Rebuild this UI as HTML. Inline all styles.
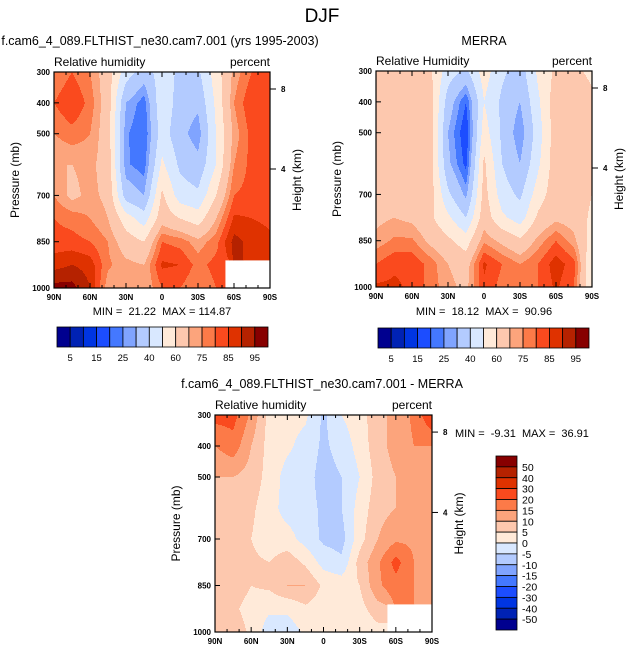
<!DOCTYPE html>
<html><head><meta charset="utf-8"><style>
body{margin:0;background:#fff;}
svg{display:block;font-family:"Liberation Sans",Arial,sans-serif;}
</style></head><body>
<svg id="chart" width="631" height="656" viewBox="0 0 631 656" xmlns="http://www.w3.org/2000/svg">
<text x="322" y="22" font-size="19" text-anchor="middle">DJF</text>
<g id="g1"></g>
<g id="g2"></g>
<g id="g3"></g>
</svg>
<script>
const lats = [90,75,60,45,30,15,0,-15,-30,-45,-60,-75,-90];
const levels = [300,400,500,600,700,775,850,925,1000];
const N = null;
// rows = levels, cols = lats
const modelRH = [
[75,80,75,65,45,35,45,38,38,55,72,80,82],
[80,85,78,65,30,22,48,35,32,52,75,85,85],
[75,78,75,65,26,20,45,33,26,50,72,82,82],
[70,70,72,66,26,22,52,38,33,50,75,82,82],
[75,68,72,68,35,30,62,45,42,60,80,82,82],
[80,78,75,70,55,45,66,60,55,70,86,85,84],
[82,82,80,75,65,60,80,78,72,78,92,88,86],
[88,90,88,76,72,70,86,85,78,82,N,N,N],
[97,97,90,72,70,70,80,80,75,80,N,N,N]];
const merraRH = [
[62,62,62,62,45,38,55,42,35,52,62,62,58],
[68,68,68,65,35,20,50,38,30,48,66,66,62],
[68,68,68,65,30,15,55,38,25,45,66,66,62],
[68,68,68,65,32,18,62,40,30,48,66,66,62],
[68,68,68,65,42,28,64,45,38,55,66,66,60],
[68,70,68,62,52,40,66,52,45,62,68,66,58],
[72,76,76,68,62,55,74,68,62,72,80,72,55],
[80,84,84,78,70,66,86,80,75,80,88,82,50],
[86,86,84,78,72,68,84,78,75,80,86,80,50]];
const diffRH = [
[22,22,14,3,2,1,-6,0,3,8,12,16,25],
[15,18,10,3,1,-2,-6,-3,2,8,12,15,15],
[10,10,8,3,-2,-3,-7,-5,0,7,10,12,12],
[8,8,6,2,-2,-3,-6,-5,2,8,10,12,12],
[8,6,5,2,2,-2,-6,-7,3,10,14,14,13],
[8,7,6,5,8,4,-2,-4,7,14,22,15,14],
[8,8,5,6,10,10,4,3,5,14,18,15,14],
[8,6,3,1,1,4,2,2,3,8,N,N,N],
[10,8,4,-3,-3,1,2,2,1,3,N,N,N]];
const rhLevels = [5,10,15,20,25,30,40,50,60,70,75,80,85,90,95];
const rhLabels = ["5","15","25","40","60","75","85","95"];
const diffLevels = [-50,-40,-30,-20,-15,-10,-5,0,5,10,15,20,30,40,50];
const diffLabels = ["50","40","30","20","15","10","5","0","-5","-10","-15","-20","-30","-40","-50"];
const pTicks = [300,400,500,700,850,1000];
const latTicks = [90,60,30,0,-30,-60,-90];
const latTickLabels = ["90N","60N","30N","0","30S","60S","90S"];
const colors = ["#00008f","#0022b4","#0035e2","#1c4dff","#4478ff","#80a4ff","#b3cbff","#d9e8ff","#ffead9","#fdc8ae","#fca47c","#fc7a48","#fa4a1e","#df3200","#b52200","#870000"];

const NS="http://www.w3.org/2000/svg";
function el(tag,attrs,parent,txt){const e=document.createElementNS(NS,tag);for(const k in attrs)e.setAttribute(k,attrs[k]);if(txt!==undefined)e.textContent=txt;parent.appendChild(e);return e;}
function colorIdx(v,lv){let i=0;while(i<lv.length&&v>=lv[i])i++;return i;}
function sample(grid,la,p){
  let fi=(90-la)/15; let ci=Math.max(0,Math.min(Math.floor(fi),lats.length-2)); let tx=fi-ci;
  let ri=0; while(ri<levels.length-2&&p>levels[ri+1])ri++;
  let ty=(p-levels[ri])/(levels[ri+1]-levels[ri]);
  const nr=ty<0.8?ri:ri+1, nc=tx<0.5?ci:ci+1;
  if(grid[nr][nc]===null)return null;
  const pts=[[ri,ci,(1-tx)*(1-ty)],[ri,ci+1,tx*(1-ty)],[ri+1,ci,(1-tx)*ty],[ri+1,ci+1,tx*ty]];
  let s=0,w=0;for(const [r,c,ww] of pts){const v=grid[r][c];if(v!==null){s+=v*ww;w+=ww;}}
  return w>0?s/w:null;
}
function panel(g,P,grid,lv,opts){
  const xS=la=>P.x+(90-la)/180*P.w;
  const yS=p=>P.y+(p-300)/700*P.h;
  const step=1;
  const cells=el('g',{},g);
  
  
  for(let py=0;py<P.h;py+=step){
    const p=300+(py+step/2)/P.h*700;
    const row=[];
    for(let px=0;px<P.w;px+=step){const la=90-(px+step/2)/P.w*180;const v=sample(grid,la,p);row.push(v===null?null:colors[colorIdx(v,lv)]);}
    let start=0;
    for(let i=1;i<=row.length;i++){
      if(i===row.length||row[i]!==row[start]){
        if(row[start]){const r=el('rect',{x:P.x+start*step,y:P.y+py,width:Math.min((i-start)*step,P.w-start*step)+0.4,height:step+0.4,fill:row[start]},cells);
          
          }
        start=i;
      }
    }
  }
  el('rect',{x:P.x,y:P.y,width:P.w,height:P.h,fill:'none',stroke:'#000','stroke-width':1.2},g);
  pTicks.forEach(p=>{const y=yS(p);el('line',{x1:P.x,x2:P.x+5,y1:y,y2:y,stroke:'#000'},g);
    const t=el('text',{x:P.x-4,y:y+3,'font-size':8,'font-weight':'bold','text-anchor':'end'},g,String(p));});
  latTicks.forEach((la,i)=>{const x=xS(la);el('line',{x1:x,x2:x,y1:P.y+P.h,y2:P.y+P.h-5,stroke:'#000'},g);el('line',{x1:x,x2:x,y1:P.y,y2:P.y+5,stroke:'#000'},g);
    const t=el('text',{x:x,y:P.y+P.h+12,'font-size':8,'font-weight':'bold','text-anchor':'middle'},g,latTickLabels[i]);});
  for(let la=80;la>-90;la-=10){if(la%30===0)continue;const x=xS(la);el('line',{x1:x,x2:x,y1:P.y+P.h,y2:P.y+P.h-3,stroke:'#000'},g);el('line',{x1:x,x2:x,y1:P.y,y2:P.y+3,stroke:'#000'},g);}
  [[8,17/216],[4,97/216]].forEach(([h,f])=>{const y=P.y+f*P.h;el('line',{x1:P.x+P.w,x2:P.x+P.w+6,y1:y,y2:y,stroke:'#000'},g);
    const t=el('text',{x:P.x+P.w+11,y:y+3,'font-size':8,'font-weight':'bold'},g,String(h));});
  const yl=el('text',{x:0,y:0,'font-size':12,'text-anchor':'middle',transform:`translate(${P.x-35},${P.y+P.h/2}) rotate(-90)`},g,'Pressure (mb)');
  
  const yr=el('text',{x:0,y:0,'font-size':12,'text-anchor':'middle',transform:`translate(${P.x+P.w+31},${P.y+P.h/2}) rotate(-90)`},g,'Height (km)');
  
  const v1=el('text',{x:P.x,y:P.y-6,'font-size':12},g,opts.var);
  const u1=el('text',{x:P.x+P.w,y:P.y-6,'font-size':12,'text-anchor':'end'},g,'percent');
  const ti=el('text',{x:opts.tx,y:opts.ty,'font-size':12.5,'text-anchor':'middle'},g,opts.title);
  const mm=el('text',{x:opts.mx,y:opts.my,'font-size':11,'text-anchor':opts.ma,style:'white-space:pre'},g,opts.minmax);
}
function hbar(g,x,y,w,h){
  const cb=el('g',{},g);
  const bw=w/16;
  colors.forEach((c,i)=>{const r=el('rect',{x:x+i*bw,y:y,width:bw,height:h,fill:c,stroke:'#000','stroke-width':0.8},cb);});
  rhLabels.forEach((l,k)=>{const i=1+2*k;const t=el('text',{x:x+i*bw,y:y+h+14,'font-size':9.5,'text-anchor':'middle'},cb,l);});
}
function vbar(g,x,y,w,h){
  const cb=el('g',{},g);
  const bh=h/16;
  for(let i=0;i<16;i++){const r=el('rect',{x:x,y:y+i*bh,width:w,height:bh,fill:colors[15-i],stroke:'#000','stroke-width':0.8},cb);}
  diffLabels.forEach((l,k)=>{const t=el('text',{x:x+w+5,y:y+(k+1)*bh+4,'font-size':10.5},cb,l);});
}
const g1=document.getElementById('g1'),g2=document.getElementById('g2'),g3=document.getElementById('g3');
panel(g1,{x:54,y:72,w:216,h:216},modelRH,rhLevels,{var:'Relative humidity',title:'f.cam6_4_089.FLTHIST_ne30.cam7.001 (yrs 1995-2003)',tx:160,ty:45,minmax:'MIN =  21.22  MAX = 114.87',mx:162,my:315,ma:'middle'});
hbar(g1,57,327,211,20);
panel(g2,{x:376,y:71,w:216,h:216},merraRH,rhLevels,{var:'Relative Humidity',title:'MERRA',tx:484,ty:45,minmax:'MIN =  18.12  MAX =  90.96',mx:484,my:315,ma:'middle'});
hbar(g2,378,328,211,20);
panel(g3,{x:215,y:415,w:217,h:217},diffRH,diffLevels,{var:'Relative humidity',title:'f.cam6_4_089.FLTHIST_ne30.cam7.001 - MERRA',tx:322,ty:388,minmax:'MIN =  -9.31  MAX =  36.91',mx:455,my:437,ma:'start'});
vbar(g3,496,456,21,174);
</script>
</body></html>
